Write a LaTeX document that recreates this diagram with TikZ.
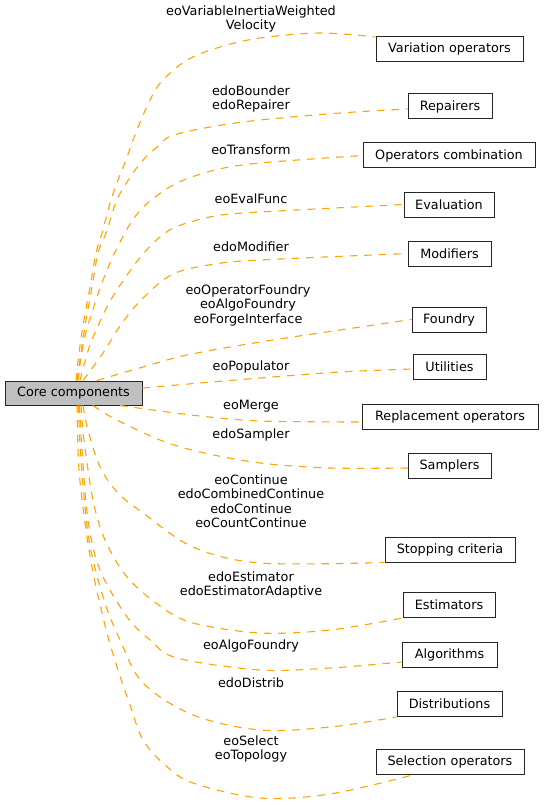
\documentclass[tikz,border=0pt]{standalone}
\usepackage{fontspec}
\setmainfont{DejaVu Sans}
\usetikzlibrary{calc}
\definecolor{edgeor}{HTML}{FFA500}
\definecolor{coregray}{HTML}{BFBFBF}
\begin{document}
\begin{tikzpicture}[x=1pt,y=-1pt,
  box/.style={draw=black!85,line width=1pt,minimum height=25pt,inner sep=0pt,font=\fontsize{12.8}{15}\selectfont},
  lbl/.style={align=center,inner sep=0pt,font=\fontsize{12.8}{14.5}\selectfont},
  dep/.style={draw=edgeor,line width=1.1pt,dash pattern=on 7.5pt off 7pt,smooth,tension=0.55}]
\useasboundingbox (0,0) rectangle (543,805);
% nodes
\node[box,fill=coregray,minimum width=137pt,minimum height=24pt] (core) at (73.5,393) {Core components};
\node[box,minimum width=147pt] (var) at (449.5,49) {Variation operators};
\node[box,minimum width=84pt] (rep) at (450,106.5) {Repairers};
\node[box,minimum width=172pt] (opc) at (449,155.5) {Operators combination};
\node[box,minimum width=90pt] (eval) at (449,204.5) {Evaluation};
\node[box,minimum width=83pt] (mod) at (449.5,253.5) {Modifiers};
\node[box,minimum width=74pt] (found) at (449,319.5) {Foundry};
\node[box,minimum width=73pt] (util) at (449.5,367) {Utilities};
\node[box,minimum width=176pt] (repl) at (450,417) {Replacement operators};
\node[box,minimum width=83pt] (samp) at (449.5,465.5) {Samplers};
\node[box,minimum width=130pt] (stop) at (450,549.5) {Stopping criteria};
\node[box,minimum width=92pt] (est) at (449,605) {Estimators};
\node[box,minimum width=95pt] (alg) at (449.5,654.5) {Algorithms};
\node[box,minimum width=105pt] (dist) at (449.5,704) {Distributions};
\node[box,minimum width=148pt] (sel) at (450,762) {Selection operators};
% labels
\node[lbl] (l1) at (251,19) {eoVariableInertiaWeighted\\Velocity};
\node[lbl] (l2) at (251,99) {edoBounder\\edoRepairer};
\node[lbl] (l3) at (251,150) {eoTransform};
\node[lbl] (l4) at (251,199) {eoEvalFunc};
\node[lbl] (l5) at (251,247) {edoModifier};
\node[lbl] (l6) at (248,305) {eoOperatorFoundry\\eoAlgoFoundry\\eoForgeInterface};
\node[lbl] (l7) at (251,367) {eoPopulator};
\node[lbl] (l8) at (251,406) {eoMerge};
\node[lbl] (l9) at (251,435) {edoSampler};
\node[lbl] (l10) at (251,501) {eoContinue\\edoCombinedContinue\\edoContinue\\eoCountContinue};
\node[lbl] (l11) at (251,585) {edoEstimator\\edoEstimatorAdaptive};
\node[lbl] (l12) at (251,646) {eoAlgoFoundry};
\node[lbl] (l13) at (251,683) {edoDistrib};
\node[lbl] (l14) at (251,749) {eoSelect\\eoTopology};
% edge end points
\coordinate (s1) at ($(core.north)+(2.5,0)$);
\coordinate (s2) at ($(core.north)+(3.5,0)$);
\coordinate (s3) at ($(core.north)+(4.5,0)$);
\coordinate (s4) at ($(core.north)+(6.5,0)$);
\coordinate (s5) at ($(core.north)+(9.5,0)$);
\coordinate (s6) at ($(core.north)+(23.5,0)$);
\coordinate (s7) at ($(core.east)+(0,-5)$);
\coordinate (s8) at ($(core.south)+(46.5,0)$);
\coordinate (s9) at ($(core.south)+(19.5,0)$);
\coordinate (s10) at ($(core.south)+(9.5,0)$);
\coordinate (s11) at ($(core.south)+(7.5,0)$);
\coordinate (s12) at ($(core.south)+(6,0)$);
\coordinate (s13) at ($(core.south)+(5,0)$);
\coordinate (s14) at ($(core.south)+(3.5,0)$);
\coordinate (t1) at ($(var.west)+(0,-12)$);
\coordinate (t2) at ($(rep.west)+(0,2.5)$);
\coordinate (t3) at (opc.west);
\coordinate (t4) at (eval.west);
\coordinate (t5) at (mod.west);
\coordinate (t6) at (found.west);
\coordinate (t7) at ($(util.west)+(0,2)$);
\coordinate (t8) at ($(repl.west)+(0,5)$);
\coordinate (t9) at ($(samp.west)+(0,2.5)$);
\coordinate (t10) at (stop.south west);
\coordinate (t11) at (est.south west);
\coordinate (t12) at ($(alg.west)+(0,7.5)$);
\coordinate (t13) at (dist.south west);
\coordinate (t14) at ($(sel.south west)+(37,0)$);
% edges
\draw[dep] plot coordinates {(s1) (79,353) (84,320) (90,287) (96,253) (102,233) (111,200) (118,180) (126,160) (133,140) (141,120) (150,100) (162,81) (187,60) (220,47) (260,38) (320,33) (t1)};
\draw[dep] plot coordinates {(s2) (81,353) (86,320) (92,287) (98,253) (106,233) (116,202) (124,187) (133,173) (143,160) (157,147) (171,136) (210,127) (260,120) (340,113) (t2)};
\draw[dep] plot coordinates {(s3) (84,340) (96,300) (107,270) (120,242) (134,218) (150,201) (177,183) (215,170) (260,163) (t3)};
\draw[dep] plot coordinates {(s4) (90,345) (108,305) (125,278) (143,254) (160,237) (178,226) (215,216) (260,212) (t4)};
\draw[dep] plot coordinates {(s5) (103,353) (122,323) (143,298) (173,274) (215,264) (260,260) (t5)};
\draw[dep] plot coordinates {(s6) (143,367) (187,355) (260,342) (340,330) (t6)};
\draw[dep] plot coordinates {(s7) (200,383) (260,378) (340,372) (t7)};
\draw[dep] plot coordinates {(s8) (160,411) (200,416) (260,421) (t8)};
\draw[dep] plot coordinates {(s9) (113,418) (160,440) (200,452) (260,463) (330,468) (t9)};
\draw[dep] plot coordinates {(s10) (88,430) (100,467) (118,493) (143,513) (193,547) (260,563) (t10)};
\draw[dep] plot coordinates {(s11) (84,440) (93,500) (105,540) (127,577) (160,606) (193,623) (260,633) (330,630) (t11)};
\draw[dep] plot coordinates {(s12) (82,450) (88,520) (100,570) (127,617) (150,640) (177,658) (260,670) (330,668) (t12)};
\draw[dep] plot coordinates {(s13) (81,460) (89,540) (104,600) (120,640) (143,683) (193,715) (260,730) (330,727) (t13)};
\draw[dep] plot coordinates {(s14) (79,470) (86,530) (92,567) (99,600) (107,633) (117,667) (130,705) (143,740) (165,765) (193,783) (260,798) (330,794) (t14)};
\end{tikzpicture}
\end{document}
